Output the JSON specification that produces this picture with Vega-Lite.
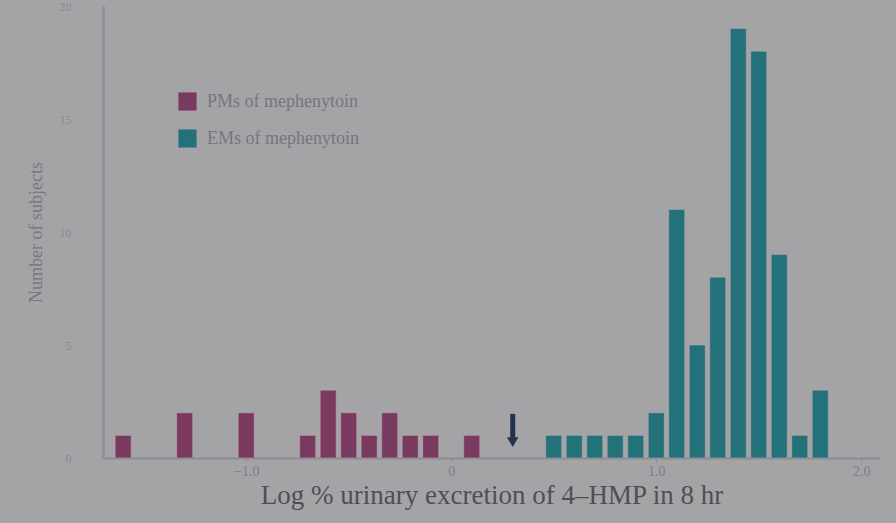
{
  "$schema": "https://vega.github.io/schema/vega-lite/v6.json",
  "autosize": {"type": "none"},
  "width": 777,
  "height": 452,
  "padding": {"left": 103, "top": 6, "right": 16, "bottom": 65},
  "background": "#a4a4a6",
  "config": {
    "view": {"stroke": null},
    "font": "Liberation Serif"
  },
  "datasets": {
    "bars": [
      {"x": -1.6, "count": 1, "group": "PMs of mephenytoin"},
      {"x": -1.3, "count": 2, "group": "PMs of mephenytoin"},
      {"x": -1.0, "count": 2, "group": "PMs of mephenytoin"},
      {"x": -0.7, "count": 1, "group": "PMs of mephenytoin"},
      {"x": -0.6, "count": 3, "group": "PMs of mephenytoin"},
      {"x": -0.5, "count": 2, "group": "PMs of mephenytoin"},
      {"x": -0.4, "count": 1, "group": "PMs of mephenytoin"},
      {"x": -0.3, "count": 2, "group": "PMs of mephenytoin"},
      {"x": -0.2, "count": 1, "group": "PMs of mephenytoin"},
      {"x": -0.1, "count": 1, "group": "PMs of mephenytoin"},
      {"x": 0.1, "count": 1, "group": "PMs of mephenytoin"},
      {"x": 0.5, "count": 1, "group": "EMs of mephenytoin"},
      {"x": 0.6, "count": 1, "group": "EMs of mephenytoin"},
      {"x": 0.7, "count": 1, "group": "EMs of mephenytoin"},
      {"x": 0.8, "count": 1, "group": "EMs of mephenytoin"},
      {"x": 0.9, "count": 1, "group": "EMs of mephenytoin"},
      {"x": 1.0, "count": 2, "group": "EMs of mephenytoin"},
      {"x": 1.1, "count": 11, "group": "EMs of mephenytoin"},
      {"x": 1.2, "count": 5, "group": "EMs of mephenytoin"},
      {"x": 1.3, "count": 8, "group": "EMs of mephenytoin"},
      {"x": 1.4, "count": 19, "group": "EMs of mephenytoin"},
      {"x": 1.5, "count": 18, "group": "EMs of mephenytoin"},
      {"x": 1.6, "count": 9, "group": "EMs of mephenytoin"},
      {"x": 1.7, "count": 1, "group": "EMs of mephenytoin"},
      {"x": 1.8, "count": 3, "group": "EMs of mephenytoin"}
    ],
    "arrow": [
      {"x": 0.3, "top": 1.95, "bottom": 0.9, "tip": 0.7}
    ]
  },
  "layer": [
    {
      "data": {"name": "bars"},
      "mark": {"type": "bar", "size": 16, "stroke": "#c0a8b8", "strokeWidth": 1, "strokeOpacity": 0.5},
      "encoding": {
        "x": {
          "field": "x", "type": "quantitative",
          "scale": {"domain": [-1.674, 2.067], "nice": false, "zero": false},
          "axis": {
            "values": [-1.0, 0, 1.0, 2.0],
            "labelExpr": "datum.value == 0 ? '0' : format(datum.value, '.1f')",
            "title": "Log % urinary excretion of 4\u2013HMP in 8 hr",
            "titleFont": "Liberation Serif",
            "titleFontSize": 27,
            "titleFontWeight": "normal",
            "titleColor": "#4e4e58",
            "titlePadding": 4,
            "labelFont": "Liberation Serif",
            "labelFontSize": 14,
            "labelColor": "#7c7c86",
            "domainColor": "#8a8a92",
            "domainWidth": 2,
            "tickColor": "#8a8a92",
            "tickSize": 4,
            "labelPadding": 2,
            "grid": false
          }
        },
        "y": {
          "field": "count", "type": "quantitative",
          "scale": {"domain": [0, 20], "nice": false},
          "axis": {
            "values": [0, 5, 10, 15, 20],
            "title": "Number of subjects",
            "titleFont": "Liberation Serif",
            "titleFontSize": 18,
            "titleFontWeight": "normal",
            "titleColor": "#777784",
            "titlePadding": 14,
            "labelFont": "Liberation Serif",
            "labelFontSize": 12,
            "labelColor": "#888890",
            "labelPadding": 32,
            "domainColor": "#8f8f98",
            "domainWidth": 3,
            "ticks": false,
            "grid": false
          }
        },
        "color": {
          "field": "group", "type": "nominal",
          "scale": {
            "domain": ["PMs of mephenytoin", "EMs of mephenytoin"],
            "range": ["#7a3a60", "#23727a"]
          },
          "legend": {
            "title": null,
            "orient": "none",
            "legendX": 75,
            "legendY": 86,
            "symbolType": "square",
            "symbolSize": 330,
            "symbolStrokeWidth": 0,
            "symbolOpacity": 1,
            "labelFont": "Liberation Serif",
            "labelFontSize": 18,
            "labelColor": "#757582",
            "rowPadding": 18,
            "labelOffset": 10
          }
        }
      }
    },
    {
      "data": {"name": "arrow"},
      "mark": {"type": "rule", "color": "#23304c", "strokeWidth": 5},
      "encoding": {
        "x": {"field": "x", "type": "quantitative"},
        "y": {"field": "top", "type": "quantitative"},
        "y2": {"field": "bottom"}
      }
    },
    {
      "data": {"name": "arrow"},
      "mark": {"type": "point", "shape": "triangle-down", "filled": true, "color": "#23304c", "size": 130, "opacity": 1},
      "encoding": {
        "x": {"field": "x", "type": "quantitative"},
        "y": {"field": "tip", "type": "quantitative"}
      }
    }
  ]
}
